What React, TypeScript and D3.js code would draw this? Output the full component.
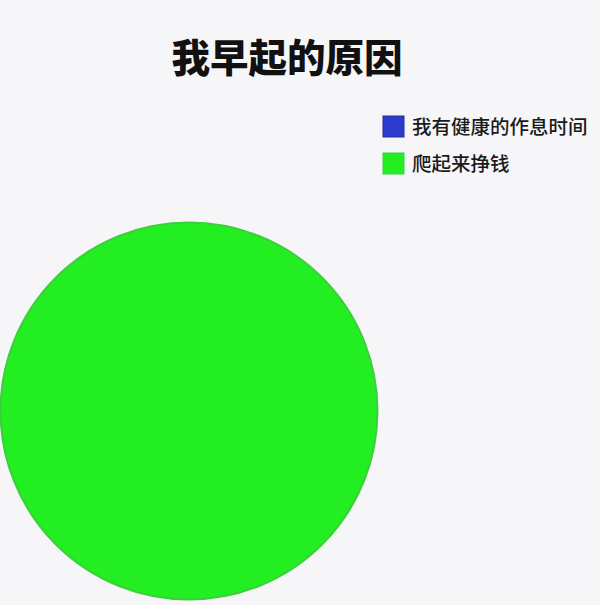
import React, { useEffect, useRef } from 'react';
import * as d3 from 'd3';

const title = '我早起的原因';
const categories = ['我有健康的作息时间', '爬起来挣钱'];
const values = [0, 100];
const colors = ['#2b3bcb', '#22ee22'];
const edgeColors = ['#25309a', '#3ccf3c'];

const App: React.FC = () => {
  const svgRef = useRef<SVGSVGElement>(null);

  useEffect(() => {
    if (!svgRef.current) return;
    const width = 600;
    const height = 605;
    const svg = d3.select(svgRef.current);
    svg.selectAll('*').remove();
    svg.attr('width', width).attr('height', height);

    svg.append('rect')
      .attr('width', width)
      .attr('height', height)
      .attr('fill', '#f6f6f8');

    const font = '"Noto Sans CJK SC", "Noto Sans", sans-serif';

    // Title
    svg.append('text')
      .attr('x', 287)
      .attr('y', 72)
      .attr('text-anchor', 'middle')
      .style('font-family', font)
      .style('font-size', '38.5px')
      .style('font-weight', 900)
      .style('fill', '#111')
      .text(title);

    // Pie
    const radius = 188.5;
    const g = svg.append('g').attr('transform', `translate(189,411)`);

    const pie = d3.pie<number>().sort(null).value(d => d);
    const arc = d3.arc<d3.PieArcDatum<number>>().innerRadius(0).outerRadius(radius);

    g.selectAll('path')
      .data(pie(values).filter(d => d.value > 0))
      .enter()
      .append('path')
      .attr('d', arc)
      .attr('fill', d => colors[d.index])
      .attr('stroke', d => edgeColors[d.index])
      .attr('stroke-width', 2);

    // Legend
    const legend = svg.append('g').attr('transform', 'translate(383,116)');
    const item = legend.selectAll('g')
      .data(categories)
      .enter()
      .append('g')
      .attr('transform', (_, i) => `translate(0,${i * 37})`);

    item.append('rect')
      .attr('width', 21)
      .attr('height', 21)
      .attr('fill', (_, i) => colors[i])
      .attr('stroke', (_, i) => edgeColors[i])
      .attr('stroke-width', 1);

    item.append('text')
      .attr('x', 29)
      .attr('y', 17.5)
      .style('font-family', font)
      .style('font-size', '19.5px')
      .style('font-weight', 500)
      .style('fill', '#1a1a1a')
      .text(d => d);
  }, []);

  return (
    <div style={{ position: 'absolute', left: 0, top: 0 }}>
      <svg ref={svgRef} style={{ display: 'block' }} />
    </div>
  );
};

export default App;
